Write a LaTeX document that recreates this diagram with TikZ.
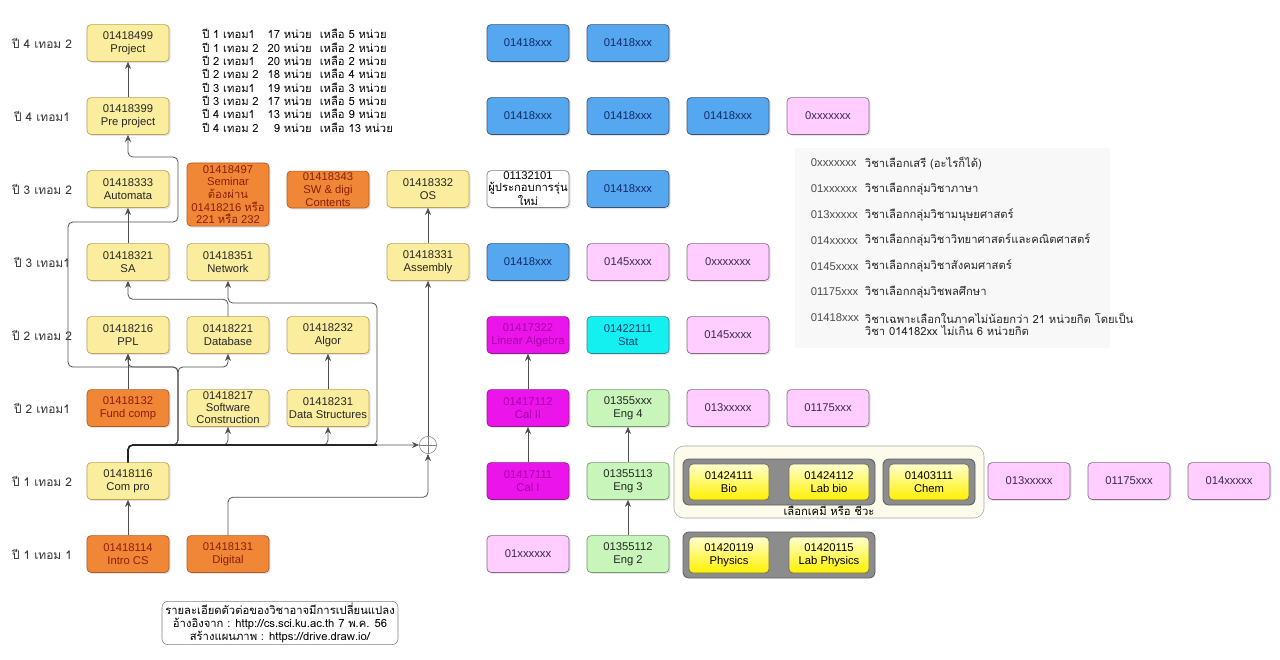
\documentclass[tikz,border=0pt]{standalone}
\usepackage{fontspec}
\setmainfont{Liberation Sans}
\newfontfamily\thaifont[Script=Thai]{Loma}
\usetikzlibrary{arrows.meta,shadows}

\definecolor{corefill}{RGB}{250,237,158}
\definecolor{coreline}{RGB}{190,160,90}
\definecolor{reqfill}{RGB}{240,135,55}
\definecolor{reqline}{RGB}{175,90,40}
\definecolor{reqtext}{RGB}{140,30,10}
\definecolor{majorfill}{RGB}{85,168,240}
\definecolor{majorline}{RGB}{60,80,110}
\definecolor{majortext}{RGB}{20,40,100}
\definecolor{elecfill}{RGB}{255,205,255}
\definecolor{elecline}{RGB}{135,105,135}
\definecolor{electext}{RGB}{60,40,80}
\definecolor{mathfill}{RGB}{235,20,235}
\definecolor{mathline}{RGB}{140,30,140}
\definecolor{mathtext}{RGB}{170,0,170}
\definecolor{statfill}{RGB}{20,240,240}
\definecolor{statline}{RGB}{60,130,140}
\definecolor{stattext}{RGB}{20,60,110}
\definecolor{langfill}{RGB}{200,245,185}
\definecolor{langline}{RGB}{120,150,110}
\definecolor{scitop}{RGB}{255,255,205}
\definecolor{scibot}{RGB}{255,240,0}
\definecolor{sciline}{RGB}{110,110,90}
\definecolor{framefill}{RGB}{140,140,140}
\definecolor{frameline}{RGB}{95,95,95}
\definecolor{choicefill}{RGB}{253,251,235}
\definecolor{legendbg}{RGB}{248,248,248}
\definecolor{linkcol}{RGB}{80,80,80}

\tikzset{
  boxbase/.style={draw, rounded corners=1mm, minimum width=20.5mm, minimum height=9.2mm,
    align=center, inner sep=0pt, line width=0.5pt, font=\fontsize{8}{9}\selectfont},
  course/.style={boxbase, drop shadow={shadow xshift=0.4mm, shadow yshift=-0.4mm, opacity=0.2}},
  core/.style={course, fill=corefill, draw=coreline, text=black!85},
  req/.style={course, fill=reqfill, draw=reqline, text=reqtext},
  major/.style={course, fill=majorfill, draw=majorline, text=majortext},
  elective/.style={course, fill=elecfill, draw=elecline, text=electext},
  math/.style={course, fill=mathfill, draw=mathline, text=mathtext},
  statbox/.style={course, fill=statfill, draw=statline, text=stattext},
  lang/.style={course, fill=langfill, draw=langline, text=black!85},
  plainbox/.style={course, fill=white, draw=gray},
  sci/.style={boxbase, minimum width=20mm, minimum height=9mm, top color=scitop, bottom color=scibot, draw=sciline},
  sciframe/.style={draw=frameline, fill=framefill, rounded corners=1.5mm, line width=0.6pt, minimum height=11.5mm},
  choicebox/.style={draw=gray!70, fill=choicefill, rounded corners=2.5mm, minimum width=77.5mm, minimum height=18mm},
  rowlbl/.style={font=\thaifont\fontsize{8.5}{9}\selectfont, text=black!80},
  lgcode/.style={anchor=west, font=\fontsize{8}{9}\selectfont, text=black!70},
  lgtext/.style={anchor=west, font=\thaifont\fontsize{8}{9}\selectfont, text=black!85, align=left},
  link/.style={draw=linkcol, line width=0.55pt, rounded corners=1.2mm, -{Stealth[length=1.8mm,width=1.5mm]}},
  trunk/.style={draw=black!85, line width=1.1pt, rounded corners=1.2mm},
}

\begin{document}
\begin{tikzpicture}[x=0.25mm,y=-0.25mm]
    \fill[white] (0,0) rectangle (1280,659);
    \useasboundingbox (0,0) rectangle (1280,659);

    % semesters
    \node[rowlbl] (y4t2) at (42,43) {ปี 4 เทอม 2};
    \node[rowlbl] (y4t1) at (42,116) {ปี 4 เทอม1};
    \node[rowlbl] (y3t2) at (42,189) {ปี 3 เทอม 2};
    \node[rowlbl] (y3t1) at (42,262) {ปี 3 เทอม1};
    \node[rowlbl] (y2t2) at (42,335) {ปี 2 เทอม 2};
    \node[rowlbl] (y2t1) at (42,408) {ปี 2 เทอม1};
    \node[rowlbl] (y1t2) at (42,481) {ปี 1 เทอม 2};
    \node[rowlbl] (y1t1) at (42,554) {ปี 1 เทอม 1};

    \node[anchor=north west, inner sep=0pt, font=\thaifont\fontsize{8}{9}\selectfont] (units) at (202,29) {%
        \begin{tabular}{@{}l@{\hspace{2.2mm}}r@{\hspace{2mm}}l@{}}
        ปี 1 เทอม1 & 17 หน่วย & เหลือ 5 หน่วย\\
        ปี 1 เทอม 2 & 20 หน่วย & เหลือ 2 หน่วย\\
        ปี 2 เทอม1 & 20 หน่วย & เหลือ 2 หน่วย\\
        ปี 2 เทอม 2 & 18 หน่วย & เหลือ 4 หน่วย\\
        ปี 3 เทอม1 & 19 หน่วย & เหลือ 3 หน่วย\\
        ปี 3 เทอม 2 & 17 หน่วย & เหลือ 5 หน่วย\\
        ปี 4 เทอม1 & 13 หน่วย & เหลือ 9 หน่วย\\
        ปี 4 เทอม 2 & 9 หน่วย & เหลือ 13 หน่วย
        \end{tabular}};

    % core courses
    \node[core] (project) at (128,43) {01418499\\Project};
    \node[core] (preproject) at (128,116) {01418399\\Pre project};
    \node[core] (automata) at (128,189) {01418333\\Automata};
    \node[req, minimum height=15.8mm] (seminar) at (228,194.5) {01418497\\Seminar\\{\thaifont ต้องผ่าน}\\01418216 {\thaifont หรือ}\\221 {\thaifont หรือ} 232};
    \node[req] (swdigi) at (328,189.5) {01418343\\SW \& digi\\Contents};
    \node[core] (os) at (428,189) {01418332\\OS};
    \node[core] (sa) at (128,262) {01418321\\SA};
    \node[core] (network) at (228,262) {01418351\\Network};
    \node[core] (assembly) at (428,262) {01418331\\Assembly};
    \node[core] (ppl) at (128,335) {01418216\\PPL};
    \node[core] (database) at (228,335) {01418221\\Database};
    \node[core] (algor) at (328,335) {01418232\\Algor};
    \node[req] (fundcomp) at (128,408) {01418132\\Fund comp};
    \node[core, font=\fontsize{8}{8.5}\selectfont] (swcons) at (228,408) {01418217\\Software\\Construction};
    \node[core] (datastruct) at (328,408) {01418231\\Data Structures};
    \node[core] (compro) at (128,481) {01418116\\Com pro};
    \node[req] (introcs) at (128,554) {01418114\\Intro CS};
    \node[req] (digital) at (228,554) {01418131\\Digital};
    \node[circle, draw=gray, fill=white, minimum size=4.3mm, inner sep=0pt,
        path picture={\draw[gray] (path picture bounding box.north) -- (path picture bounding box.south)
        (path picture bounding box.west) -- (path picture bounding box.east);}] (plus) at (428,445) {};

    % electives and other faculties
    \node[major] (m81) at (528,43) {01418xxx};
    \node[major] (m82) at (628,43) {01418xxx};
    \node[major] (m71) at (528,116) {01418xxx};
    \node[major] (m72) at (628,116) {01418xxx};
    \node[major] (m73) at (728,116) {01418xxx};
    \node[elective] (f71) at (828,116) {0xxxxxxx};
    \node[plainbox, font=\fontsize{8}{8.3}\selectfont] (entre) at (528,189) {01132101\\{\thaifont ผู้ประกอบการรุ่น}\\{\thaifont ใหม่}};
    \node[major] (m61) at (628,189) {01418xxx};
    \node[major] (m51) at (528,262) {01418xxx};
    \node[elective] (s51) at (628,262) {0145xxxx};
    \node[elective] (f51) at (728,262) {0xxxxxxx};
    \node[math] (linalg) at (528,335) {01417322\\Linear Algebra};
    \node[statbox] (stat) at (628,335) {01422111\\Stat};
    \node[elective] (s41) at (728,335) {0145xxxx};
    \node[math] (cal2) at (528,408) {01417112\\Cal II};
    \node[lang] (eng4) at (628,408) {01355xxx\\Eng 4};
    \node[elective] (h31) at (728,408) {013xxxxx};
    \node[elective] (pe31) at (828,408) {01175xxx};
    \node[math] (cal1) at (528,481) {01417111\\Cal I};
    \node[lang] (eng3) at (628,481) {01355113\\Eng 3};
    \node[elective] (h21) at (1029,481) {013xxxxx};
    \node[elective] (pe21) at (1129,481) {01175xxx};
    \node[elective] (sc21) at (1229,481) {014xxxxx};
    \node[elective] (l11) at (528,554) {01xxxxxx};
    \node[lang] (eng2) at (628,554) {01355112\\Eng 2};

    % science group
    \node[choicebox] (choice) at (829,482) {};
    \node[font=\thaifont\fontsize{8}{9}\selectfont] (choicelbl) at (829,511) {เลือกเคมี หรือ ชีวะ};
    \node[sciframe, minimum width=48mm] (bioframe) at (779,482) {};
    \node[sciframe, minimum width=23mm] (chemframe) at (929,482) {};
    \node[sciframe, minimum width=48mm] (phyframe) at (779,555) {};
    \node[sci] (bio) at (729,482) {01424111\\Bio};
    \node[sci] (labbio) at (829,482) {01424112\\Lab bio};
    \node[sci] (chem) at (929,482) {01403111\\Chem};
    \node[sci] (physics) at (729,555) {01420119\\Physics};
    \node[sci] (labphysics) at (829,555) {01420115\\Lab Physics};

    % legend
    \node[fill=legendbg, minimum width=78.75mm, minimum height=50mm] (legend) at (952,248) {};
    \foreach \code/\desc [count=\i] in {0xxxxxxx/วิชาเลือกเสรี (อะไรก็ได้),
        01xxxxxx/วิชาเลือกกลุ่มวิชาภาษา, 013xxxxx/วิชาเลือกกลุ่มวิชามนุษยศาสตร์,
        014xxxxx/วิชาเลือกกลุ่มวิชาวิทยาศาสตร์และคณิตศาสตร์, 0145xxxx/วิชาเลือกกลุ่มวิชาสังคมศาสตร์,
        01175xxx/วิชาเลือกกลุ่มวิชพลศึกษา}{
        \node[lgcode] (code\i) at (806,{137.2+25.8*\i}) {\code};
        \node[lgtext] (desc\i) at (860,{137.2+25.8*\i}) {\desc};
    }
    \node[lgcode] (code7) at (806,318) {01418xxx};
    \node[lgtext, font=\thaifont\fontsize{8}{8.6}\selectfont] (desc7) at (860,324) {วิชาเฉพาะเลือกในภาคไม่น้อยกว่า 21 หน่วยกิต โดยเป็น\\วิชา 014182xx ไม่เกิน 6 หน่วยกิต};

    \node[draw=gray, fill=white, rounded corners=1.5mm, minimum width=59mm, minimum height=10.8mm,
        align=center, inner sep=0pt, font=\thaifont\fontsize{8}{9.2}\selectfont] (credit) at (280,623)
        {รายละเอียดตัวต่อของวิชาอาจมีการเปลี่ยนแปลง\\อ้างอิงจาก : http://cs.sci.ku.ac.th 7 พ.ค. 56\\สร้างแผนภาพ : https://drive.draw.io/};

    % prerequisites
    \coordinate (bus) at (128,445);
    \coordinate (busend) at (377,445);
    \draw[link] (preproject.north) -- (project.south);
    \draw[link] (sa.north) -- (automata.south);
    \draw[link] (compro.north) -- (bus) -| (178,367) -| (68,222) -| (178,157) -| (preproject.south);
    \draw[link] (compro.north) -- (bus) -| (178,367) -| (ppl.south);
    \draw[link] (compro.north) -- (bus) -| (178,367) -| (database.south);
    \draw[link] (compro.north) -- (bus) -| (swcons.south);
    \draw[link] (compro.north) -- (bus) -| (datastruct.south);
    \draw[link] (compro.north) -- (bus) -- (busend) -- (377,303) -| (network.south);
    \draw[link] (compro.north) -- (bus) -- (plus.west);
    \draw[trunk] (compro.north) -- (bus) -- (busend);
    \draw[link] (database.north) -- ++(0,-17) -| (sa.south);
    \draw[link] (fundcomp.north) -- (ppl.south);
    \draw[link] (datastruct.north) -- (algor.south);
    \draw[link] (introcs.north) -- (compro.south);
    \draw[link] (digital.north) -- ++(0,-38) -| (plus.south);
    \draw[link] (plus.north) -- (assembly.south);
    \draw[link] (assembly.north) -- (os.south);
    \draw[link] (cal1.north) -- (cal2.south);
    \draw[link] (cal2.north) -- (linalg.south);
    \draw[link] (eng2.north) -- (eng3.south);
    \draw[link] (eng3.north) -- (eng4.south);
\end{tikzpicture}
\end{document}
